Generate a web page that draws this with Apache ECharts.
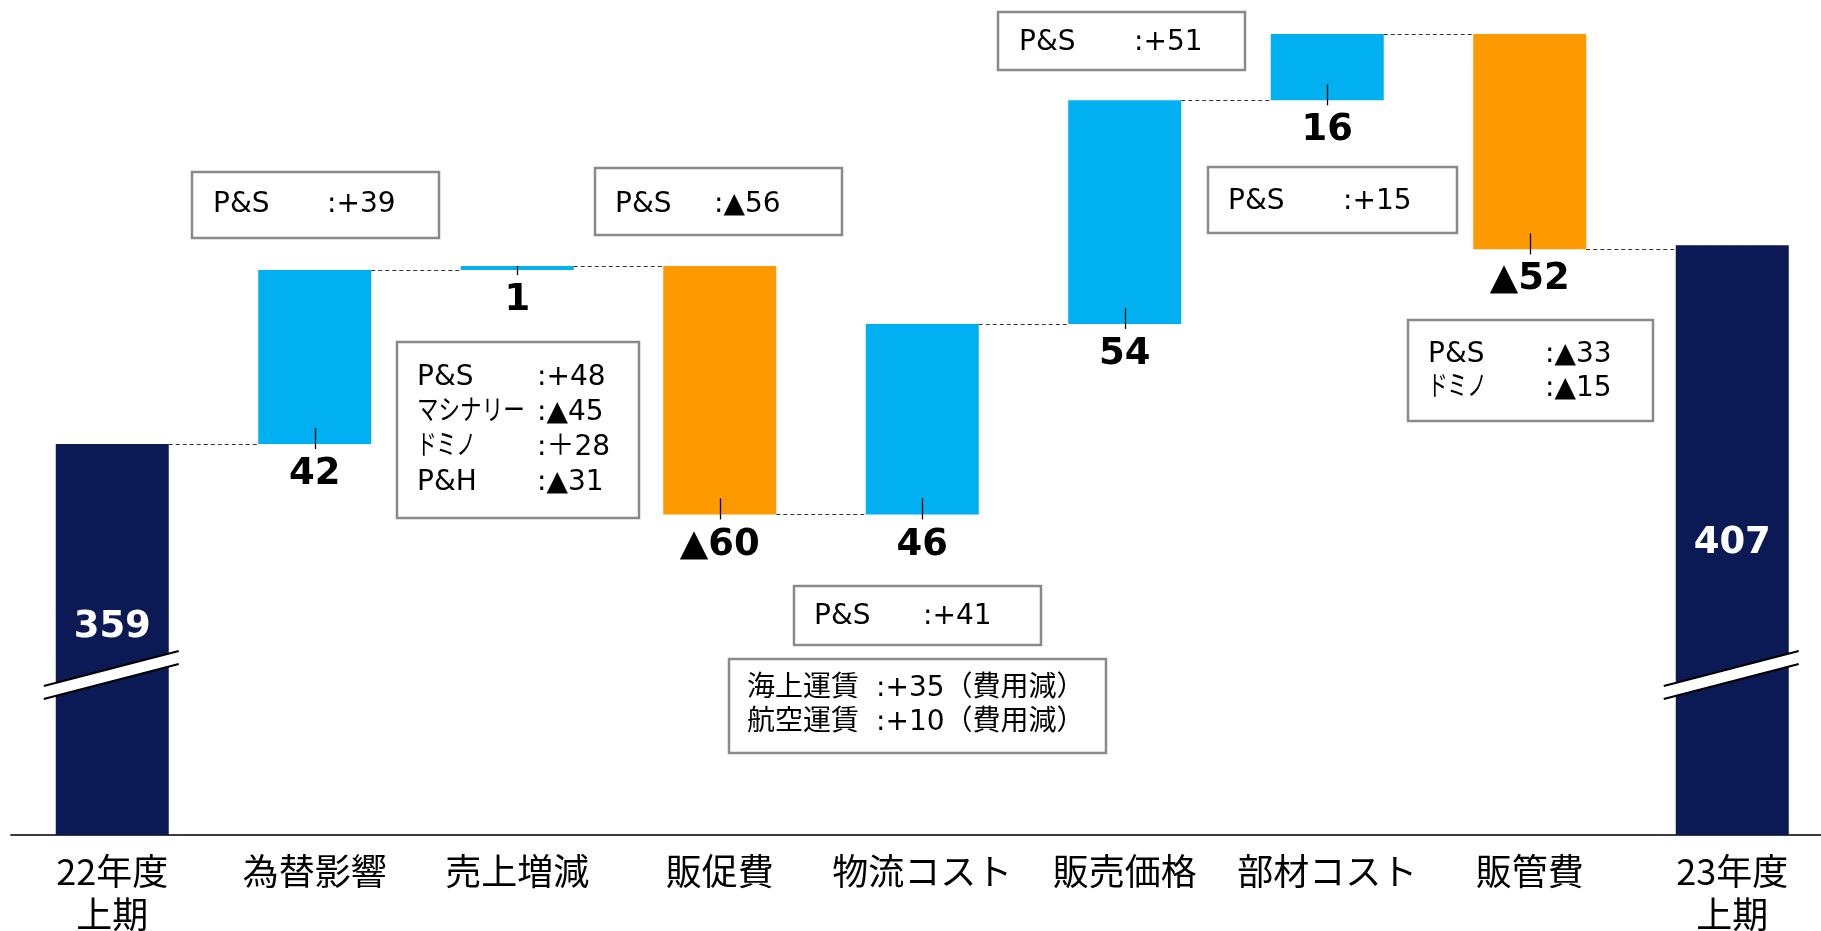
<!DOCTYPE html>
<html><head><meta charset="utf-8">
<script src="https://cdn.jsdelivr.net/npm/echarts@6/dist/echarts.min.js"></script>
<style>html,body{margin:0;padding:0;background:#fff}#c{width:1821px;height:931px}</style>
</head><body><div id="c"></div>
<script>
// ---- data ----
const categories = ['22年度\n上期','為替影響','売上増減','販促費','物流コスト','販売価格','部材コスト','販管費','23年度\n上期'];
const startTotal = 359;
const deltas = [42, 1, -60, 46, 54, 16, -52];
const endTotal = 407;
const valueLabels = ['359','42','1','▲60','46','54','16','▲52','407'];

const noteFX = [['P&S', ':+39']];
const noteSales = [['P&S', ':+48'], ['マシナリー', ':▲45'], ['ドミノ', ':＋28'], ['P&H', ':▲31']];
const notePromo = [['P&S', ':▲56']];
const noteLogiPS = [['P&S', ':+41']];
const noteLogiFreight = [['海上運賃', ':+35（費用減）'], ['航空運賃', ':+10（費用減）']];
const notePrice = [['P&S', ':+51']];
const noteParts = [['P&S', ':+15']];
const noteSGA = [['P&S', ':▲33'], ['ドミノ', ':▲15']];

// ---- layout / style ----
const Y_MIN = 264.6, Y_MAX = 458;
const BREAK_AT = 303.3;
const BAR_W = 113;
const NAVY = '#0B1955', CYAN = '#00B0F0', ORANGE = '#FF9900';
const BOX_FONT = '"DejaVu Sans", "Noto Sans CJK JP", sans-serif';

// cumulative levels
const cum = [startTotal];
deltas.forEach(d => cum.push(cum[cum.length - 1] + d));

const baseData = [], visData = [];
baseData.push(Y_MIN);
visData.push({value: startTotal - Y_MIN, itemStyle: {color: NAVY},
  label: {position: 'inside', color: '#fff', offset: [0, -12]}});
deltas.forEach((d, i) => {
  const lo = Math.min(cum[i], cum[i + 1]);
  baseData.push(lo);
  visData.push({value: Math.abs(d), itemStyle: {color: d >= 0 ? CYAN : ORANGE},
    label: {position: 'bottom', distance: 12, color: '#000'}});
});
baseData.push(Y_MIN);
visData.push({value: endTotal - Y_MIN, itemStyle: {color: NAVY},
  label: {position: 'inside', color: '#fff', offset: [0, 3]}});

const connectorData = cum.map((v, k) => [k, v]);
const tickData = deltas.map((d, i) => [i + 1, Math.min(cum[i], cum[i + 1]), Math.max(cum[i], cum[i + 1])]);
const breakData = [[0, BREAK_AT], [categories.length - 1, BREAK_AT]];

// annotation boxes
const kanaSqueeze = {'マシナリー': 0.77, 'ドミノ': 0.7};
const boxes = [
  {lines: noteFX, x: 192, y: 172, w: 247, h: 66, nx: 21, vx: 135, ly: [33]},
  {lines: noteSales, x: 397, y: 342, w: 242, h: 176, nx: 20, vx: 140, ly: [36, 71, 106, 141]},
  {lines: notePromo, x: 595, y: 168, w: 247, h: 67, nx: 20, vx: 119, ly: [37]},
  {lines: noteLogiPS, x: 794, y: 586, w: 247, h: 59, nx: 20, vx: 129, ly: [31]},
  {lines: noteLogiFreight, x: 729, y: 659, w: 377, h: 94, nx: 18, vx: 147, ly: [30, 64]},
  {lines: notePrice, x: 998, y: 12, w: 247, h: 58, nx: 21, vx: 136, ly: [31]},
  {lines: noteParts, x: 1208, y: 167, w: 249, h: 66, nx: 20, vx: 135, ly: [35]},
  {lines: noteSGA, x: 1408, y: 320, w: 245, h: 101, nx: 20, vx: 137, ly: [35, 69]}
];
const graphics = [];
boxes.forEach(b => {
  graphics.push({type: 'rect', z: 100, shape: {x: b.x, y: b.y, width: b.w, height: b.h},
    style: {fill: '#fff', stroke: '#8a8a8a', lineWidth: 2.5}});
  b.lines.forEach((ln, j) => {
    graphics.push({type: 'text', z: 101, x: b.x + b.nx, y: b.y + b.ly[j], scaleX: kanaSqueeze[ln[0]] || 1,
      style: {text: ln[0], x: 0, y: 0, fill: '#000', fontSize: 28, fontFamily: BOX_FONT, verticalAlign: 'middle', align: 'left'}});
    graphics.push({type: 'text', z: 101, x: b.x + b.vx, y: b.y + b.ly[j],
      style: {text: ln[1], x: 0, y: 0, fill: '#000', fontSize: 28, fontFamily: BOX_FONT, verticalAlign: 'middle', align: 'left'}});
  });
});

const chart = echarts.init(document.getElementById('c'), null, {renderer: 'canvas'});
chart.setOption({
  animation: false,
  backgroundColor: '#fff',
  grid: {left: 11, top: 34, width: 1822.5, height: 801, containLabel: false, outerBoundsMode: 'none'},
  xAxis: {
    type: 'category', data: categories,
    axisLine: {onZero: false, lineStyle: {color: '#3c3c3c', width: 2}},
    axisTick: {show: false},
    axisLabel: {interval: 0, fontSize: 36, lineHeight: 43, color: '#000', margin: 15,
      fontFamily: '"Noto Sans CJK JP", sans-serif'},
    splitLine: {show: false}
  },
  yAxis: {type: 'value', min: Y_MIN, max: Y_MAX, show: false, splitLine: {show: false}},
  series: [
    {type: 'bar', stack: 'w', data: baseData, barWidth: BAR_W, silent: true,
      itemStyle: {color: 'rgba(0,0,0,0)'}},
    {type: 'bar', stack: 'w', data: visData, barWidth: BAR_W,
      label: {show: true, fontSize: 37, fontWeight: 'bold', fontFamily: '"DejaVu Sans", sans-serif',
        formatter: p => valueLabels[p.dataIndex]}},
    {type: 'custom', data: connectorData.slice(0, categories.length - 1), clip: false, z: 3, silent: true,
      renderItem: (params, api) => {
        const k = api.value(0), lv = api.value(1);
        const p1 = api.coord([k, lv]), p2 = api.coord([k + 1, lv]);
        const y = Math.round(p1[1]) + 0.5;
        return {type: 'line', shape: {x1: p1[0] + BAR_W / 2, y1: y, x2: p2[0] - BAR_W / 2, y2: y},
          style: {stroke: '#333', lineWidth: 1.2, lineDash: [4, 3]}};
      }},
    {type: 'custom', data: tickData, clip: false, z: 4, silent: true,
      renderItem: (params, api) => {
        const k = api.value(0);
        const pLo = api.coord([k, api.value(1)]), pHi = api.coord([k, api.value(2)]);
        const x = Math.round(pLo[0]) + 0.5;
        return {type: 'line', shape: {x1: x, y1: Math.max(pLo[1] - 16, pHi[1]), x2: x, y2: pLo[1] + 5},
          style: {stroke: '#000', lineWidth: 1.3}};
      }},
    {type: 'custom', data: breakData, clip: false, z: 5, silent: true,
      renderItem: (params, api) => {
        const c = api.coord([api.value(0), api.value(1)]);
        const cx = c[0], cy = c[1], s = 0.259, xl = cx - 68.5, xr = cx + 66.5, g = 6.5;
        const yA = x => cy - g - s * (x - cx), yB = x => cy + g - s * (x - cx);
        return {type: 'group', children: [
          {type: 'polygon', shape: {points: [[xl, yA(xl)], [xr, yA(xr)], [xr, yB(xr)], [xl, yB(xl)]]},
            style: {fill: '#fff', stroke: null}},
          {type: 'line', shape: {x1: xl, y1: yA(xl), x2: xr, y2: yA(xr)}, style: {stroke: '#000', lineWidth: 2.2}},
          {type: 'line', shape: {x1: xl, y1: yB(xl), x2: xr, y2: yB(xr)}, style: {stroke: '#000', lineWidth: 2.2}}
        ]};
      }}
  ],
  graphic: graphics
});
</script>
</body></html>
